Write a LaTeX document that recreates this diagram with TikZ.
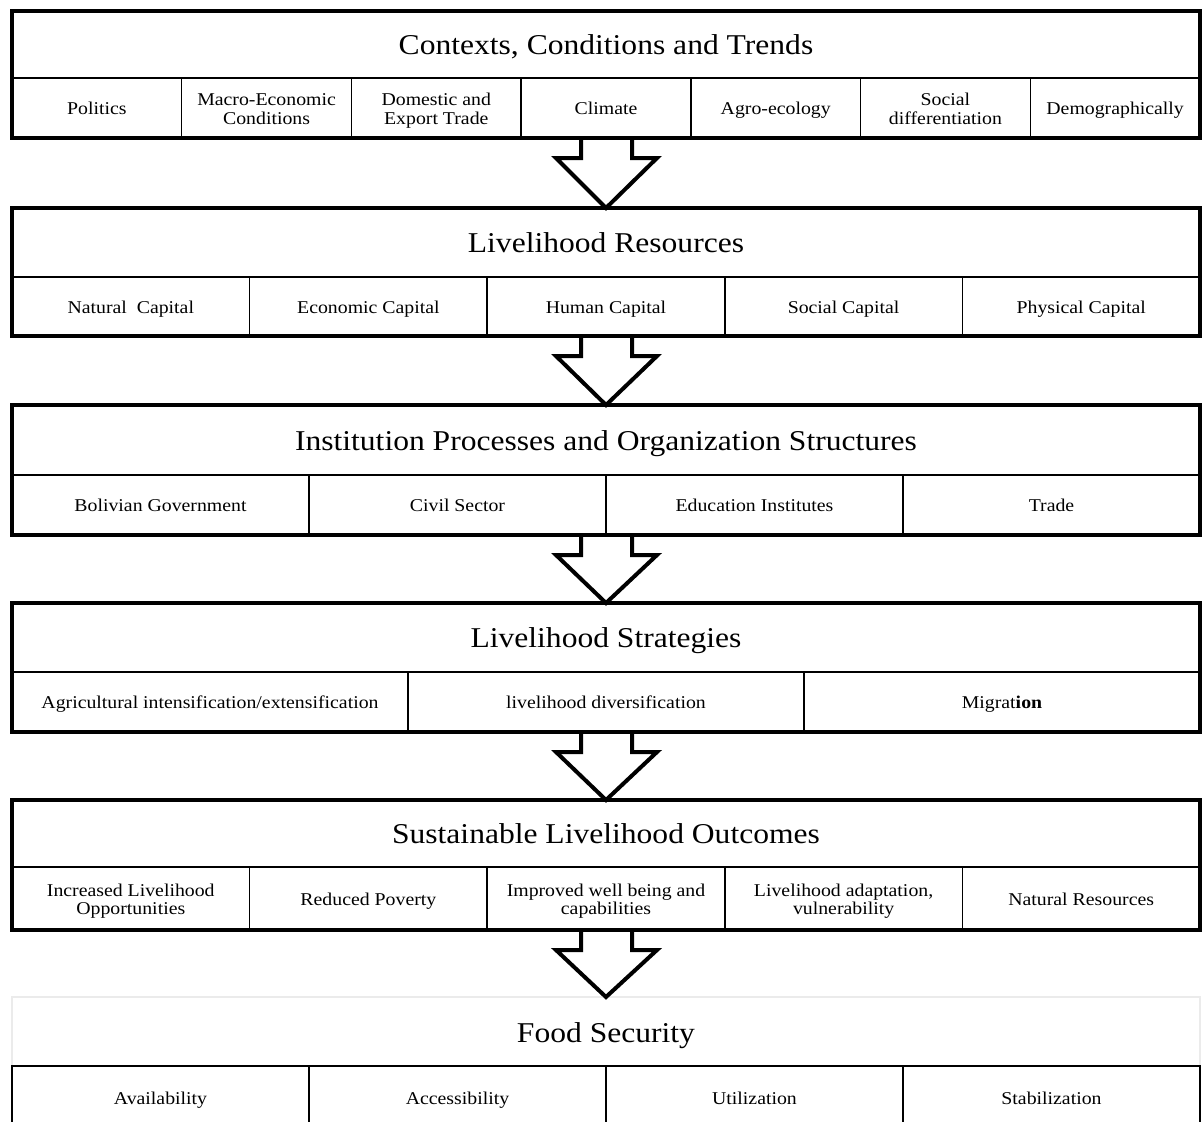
\documentclass[tikz,border=0pt]{standalone}
\usepackage{fontspec}
\setmainfont{Liberation Serif}[FakeStretch=1.1]
\usetikzlibrary{calc}
\newcommand\tst{\rule{0pt}{18.8pt}}
\newcommand\bst{\rule[-5pt]{0pt}{5pt}}
\begin{document}
\begin{tikzpicture}[x=1pt,y=-1pt,
  outerbox/.style={draw=black,line width=4pt,inner sep=0pt,outer sep=0pt,anchor=north west,minimum width=1188pt},
  cell/.style={draw=black,line width=1.5pt,inner sep=0pt,outer sep=0pt,anchor=north west,align=center,font=\fontsize{18}{18.5}\selectfont},
  titletext/.style={inner sep=0pt,anchor=base,font=\fontsize{28.7}{32}\selectfont},
  bigarrow/.style={draw=black,line width=4pt,line join=miter}
]
\useasboundingbox (0,0) rectangle (1203,1122);
\fill[white] (0,0) rectangle (1203,1122);
\clip (0,0) rectangle (1203,1122);

% ---- Section 1
\foreach \txt [count=\i] in {Politics,{Macro-Economic\\Conditions},{Domestic and\\Export Trade},Climate,Agro-ecology,{Social\\differentiation},Demographically}{
  \node[cell,minimum width=169.714pt,minimum height=60pt] (c1-\i) at ({12+(\i-1)*169.714},78) {\tst\txt\bst};
}
\node[outerbox,minimum height=127pt] (b1) at (12,11) {};
\node[titletext] (t1) at (606,54) {Contexts, Conditions and Trends};

% ---- Section 2
\foreach \txt [count=\i] in {{Natural\ \ Capital},Economic Capital,Human Capital,Social Capital,Physical Capital}{
  \node[cell,minimum width=237.6pt,minimum height=59pt] (c2-\i) at ({12+(\i-1)*237.6},277) {\tst\txt\bst};
}
\node[outerbox,minimum height=128pt] (b2) at (12,208) {};
\node[titletext] (t2) at (606,252.5) {Livelihood Resources};

% ---- Section 3
\foreach \txt [count=\i] in {Bolivian Government,Civil Sector,Education Institutes,Trade}{
  \node[cell,minimum width=297pt,minimum height=60pt] (c3-\i) at ({12+(\i-1)*297},475) {\tst\txt\bst};
}
\node[outerbox,minimum height=130pt] (b3) at (12,405) {};
\node[titletext] (t3) at (606,450) {Institution Processes and Organization Structures};

% ---- Section 4
\foreach \txt [count=\i] in {Agricultural intensification/extensification,livelihood diversification,{Migrat\textbf{ion}}}{
  \node[cell,minimum width=396pt,minimum height=60pt] (c4-\i) at ({12+(\i-1)*396},672) {\tst\txt\bst};
}
\node[outerbox,minimum height=129pt] (b4) at (12,603) {};
\node[titletext] (t4) at (606,647.5) {Livelihood Strategies};

% ---- Section 5
\foreach \txt [count=\i] in {{Increased Livelihood\\Opportunities},Reduced Poverty,{Improved well being and\\capabilities},{Livelihood adaptation,\\vulnerability},Natural Resources}{
  \node[cell,minimum width=237.6pt,minimum height=63pt] (c5-\i) at ({12+(\i-1)*237.6},867) {\tst\txt\bst};
}
\node[outerbox,minimum height=130pt] (b5) at (12,800) {};
\node[titletext] (t5) at (606,843.5) {Sustainable Livelihood Outcomes};

% ---- Food Security
\node[draw=black!8,line width=1.5pt,inner sep=0pt,outer sep=0pt,anchor=north west,minimum width=1188pt,minimum height=69pt] (b6) at (12,997) {};
\foreach \txt [count=\i] in {Availability,Accessibility,Utilization,Stabilization}{
  \node[cell,minimum width=297pt,minimum height=64pt] (c6-\i) at ({12+(\i-1)*297},1066) {\tst\txt\bst};
}
\node[titletext] (t6) at (606,1042) {Food Security};

% ---- Arrows
\foreach \a/\b in {b1/b2,b2/b3,b3/b4,b4/b5,b5/b6}{
  \draw[bigarrow] ($(\a.south)+(-25,0)$) -- ($(\a.south)+(-25,20)$) -- ($(\a.south)+(-50,20)$)
     -- (\b.north) -- ($(\a.south)+(51,20)$) -- ($(\a.south)+(26,20)$) -- ($(\a.south)+(26,0)$);
}
\end{tikzpicture}
\end{document}
